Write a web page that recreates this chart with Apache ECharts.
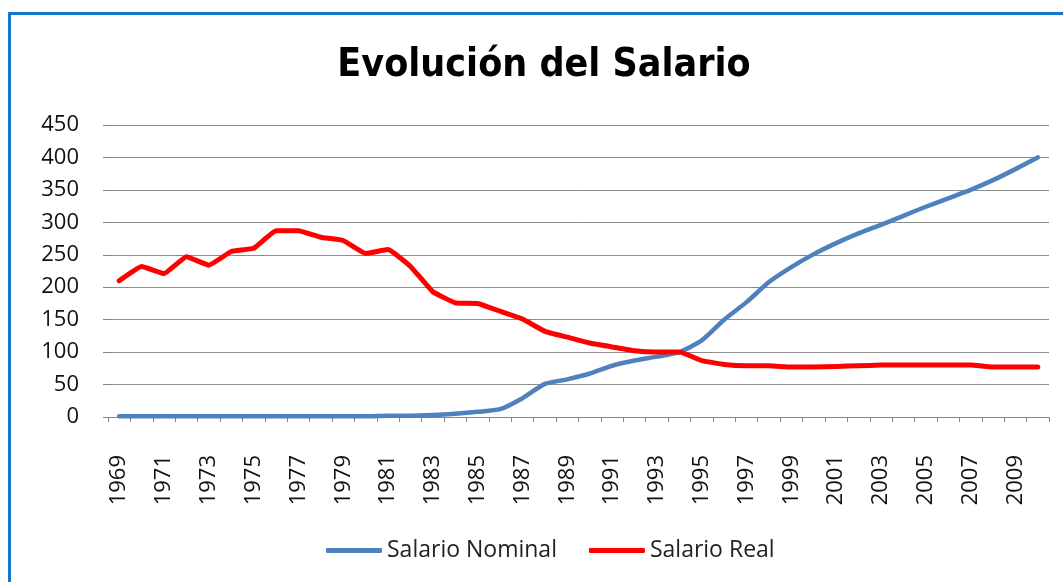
<!DOCTYPE html>
<html>
<head>
<meta charset="utf-8">
<script src="https://cdn.jsdelivr.net/npm/echarts@6/dist/echarts.min.js"></script>
<style>
html,body{margin:0;padding:0;background:#fff;}
#frame{position:absolute;left:8px;top:12px;width:1100px;height:600px;border-left:3px solid #1777CC;border-top:3px solid #1777CC;box-sizing:border-box;}
#chart{position:absolute;left:0;top:0;width:1063px;height:582px;}
</style>
</head>
<body>
<div id="frame"></div>
<div id="chart"></div>
<script>
const years = [];
for (let y = 1969; y <= 2010; y++) years.push(String(y));
const salarioNominal = [1,1,1,1,1,1,1,1,1,1,1,1,
  2,2,3,5,8,12,29,51,58,67,
  79,87,93,100,118,150,177,208,231,251,
  268,283,296,310,324,337,350,365,382,400];
const salarioReal = [210,232,221,247,234,255,260,287,287,277,
  272,252,258,232,193,176,175,163,151,132,
  123,114,108,102,100,100,87,81,79,79,
  77,77,78,79,80,80,80,80,80,77,
  77,77];
const yTicks = {min:0, max:450, interval:50};

const chart = echarts.init(document.getElementById('chart'), null, {renderer:'canvas'});
const font = 'Open Sans';
chart.setOption({
  animation:false,
  backgroundColor:'transparent',
  title:{
    text:'Evolución del Salario',
    left:539, textAlign:'center', top:41,
    textStyle:{fontFamily:'DejaVu Sans Condensed, sans-serif', fontWeight:'bold', fontSize:39, color:'#000'}
  },
  legend:{
    bottom:15, left:321,
    itemWidth:56, itemHeight:5, itemGap:32,
    icon:'roundRect',
    textStyle:{fontFamily:font, fontSize:23, color:'#222'},
    data:['Salario Nominal','Salario Real']
  },
  grid:{left:108, right:14, top:125, bottom:165},
  xAxis:{
    type:'category', data:years, boundaryGap:true,
    axisLine:{show:true, lineStyle:{color:'#868686', width:1}},
    axisTick:{show:true, interval:0, length:5, lineStyle:{color:'#868686'}},
    axisLabel:{interval:1, rotate:90, margin:38, fontFamily:font, fontSize:22, color:'#111'}
  },
  yAxis:{
    type:'value', min:yTicks.min, max:yTicks.max, interval:yTicks.interval,
    axisLine:{show:false},
    axisTick:{show:true, length:5, lineStyle:{color:'#868686'}},
    axisLabel:{margin:29, fontFamily:font, fontSize:22, color:'#111'},
    splitLine:{lineStyle:{color:'#8c8c8c', width:1}}
  },
  series:[
    {name:'Salario Nominal', type:'line', data:salarioNominal, showSymbol:false, smooth:0.2,
     lineStyle:{color:'#4F81BD', width:4.5, cap:'round', join:'round'}, itemStyle:{color:'#4F81BD'}},
    {name:'Salario Real', type:'line', data:salarioReal, showSymbol:false, smooth:0.1,
     lineStyle:{color:'#FF0000', width:5, cap:'round', join:'round'}, itemStyle:{color:'#FF0000'}}
  ]
});
</script>
</body>
</html>
